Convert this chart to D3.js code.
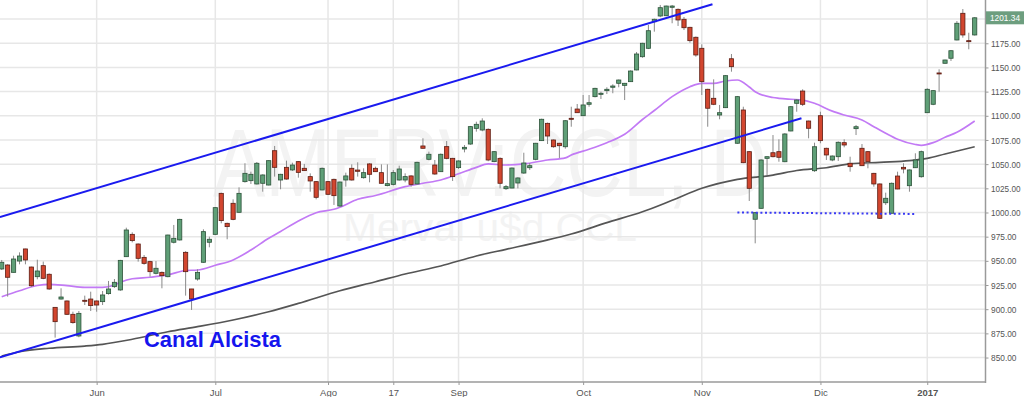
<!DOCTYPE html>
<html lang="es">
<head>
<meta charset="UTF-8">
<title>Merval u$d CCL - Canal Alcista</title>
<script src="https://d3js.org/d3.v7.min.js"></script>
<style>
    body { margin: 0; background: white; }
    svg { display: block; font-family: "Liberation Sans", Arial, sans-serif; }
</style>
</head>
<body>
<svg id="chart" width="1024" height="397"></svg>
<script>
    // daily candles (trading days, index 0 .. 164)
    const opens = [941.6,945.7,938.1,949.8,962.3,943.6,933.6,945.0,936.1,901.9,910.5,908.5,894.7,872.3,909.2,910.5,908.5,907.8,916.1,923.3,
        919.9,954.3,977.4,967.4,953.6,949.2,937.1,938.1,933.6,969.2,971.6,958.8,920.9,931.2,948.5,969.2,977.4,1019.8,988.8,1009.5,
        1000.2,1031.9,1032.9,1029.5,1030.2,1028.4,1063.9,1033.6,1046.7,1044.0,1052.6,1045.7,1037.1,1031.9,1023.3,1031.9,1034.3,1006.7,1033.6,1045.7,
        1043.9,1036.0,1050.2,1045.7,1041.2,1027.8,1029.1,1033.6,1033.6,1037.8,1029.5,1068.8,1055.0,1049.1,1042.2,1068.1,1056.0,1046.4,1065.7,1070.8,
        1087.0,1085.3,1086.0,1052.6,1056.0,1024.6,1025.3,1030.5,1040.8,1046.3,1055.0,1074.3,1092.2,1075.0,1071.6,1068.0,1097.4,1107.0,1100.1,1111.9,
        1119.8,1122.2,1126.0,1129.5,1133.6,1131.5,1135.3,1147.4,1161.1,1169.8,1197.3,1203.2,1203.5,1212.2,1210.1,1199.8,1191.5,1181.2,1169.8,1127.4,
        1118.1,1100.8,1108.4,1159.0,1071.6,1106.0,1062.9,993.0,1004.3,1056.0,1061.8,1062.9,1052.5,1084.3,1112.9,1125.6,1094.6,1043.2,1100.1,1066.4,
        1054.3,1057.7,1072.2,1050.9,1086.7,1066.4,1062.9,1040.5,1029.5,1010.1,999.2,1037.7,1046.7,1027.7,1046.3,1037.0,1103.2,1111.9,1144.3,1154.3,
        1159.5,1178.4,1206.0,1177.7,1183.6];
    const highs = [950.9,946.5,955.3,958.8,962.5,944.0,951.2,949.2,937.0,902.0,921.6,909.0,897.4,898.1,914.0,918.1,909.0,918.8,929.2,931.2,
        951.0,984.3,979.5,968.0,956.0,950.0,949.8,939.0,977.0,987.1,993.5,960.0,921.0,941.2,982.6,975.0,1005.5,1020.5,989.5,1013.6,
        1026.0,1050.9,1042.2,1052.2,1039.5,1054.0,1068.8,1040.0,1053.6,1051.5,1053.0,1050.2,1040.5,1032.5,1046.5,1032.5,1035.0,1032.0,1041.2,1049.8,
        1051.9,1045.7,1051.0,1047.4,1049.8,1049.8,1043.9,1048.4,1040.5,1038.5,1052.5,1076.7,1062.9,1054.3,1061.0,1073.9,1056.5,1054.0,1069.8,1089.5,
        1093.9,1097.4,1087.0,1063.5,1057.0,1028.4,1046.5,1036.5,1061.8,1051.2,1072.0,1097.0,1093.0,1075.5,1072.0,1095.5,1109.4,1112.2,1121.5,1121.5,
        1129.0,1124.9,1129.5,1132.6,1137.5,1134.0,1147.0,1166.0,1175.5,1193.9,1200.5,1214.6,1214.0,1214.6,1211.0,1202.2,1192.0,1182.0,1173.9,1128.0,
        1137.7,1111.2,1142.0,1163.9,1120.5,1109.4,1063.5,1000.5,1055.0,1058.0,1080.1,1075.7,1082.0,1110.0,1117.0,1127.4,1095.0,1072.2,1104.2,1067.0,
        1059.0,1073.5,1075.7,1057.7,1090.5,1070.8,1063.5,1041.0,1030.0,1020.5,1031.0,1042.2,1050.9,1044.5,1061.2,1064.0,1128.5,1126.5,1148.1,1158.0,
        1168.0,1198.0,1210.4,1185.9,1202.0];
    const lows = [940.5,913.0,938.0,946.4,946.4,923.0,930.9,931.0,920.0,870.6,910.0,894.0,885.0,871.0,904.3,898.1,897.4,904.3,915.0,922.0,
        919.0,954.0,969.1,949.2,946.0,933.6,936.0,921.6,933.0,968.0,971.0,914.0,899.2,929.5,948.0,964.0,977.0,988.8,972.3,992.0,
        999.5,1030.9,1029.5,1029.0,1021.5,1028.0,1037.1,1024.0,1034.0,1043.0,1036.0,1043.0,1021.5,1013.6,1023.0,1018.0,1007.8,1006.0,1026.7,1033.0,
        1037.1,1035.0,1031.2,1042.0,1030.0,1027.0,1028.0,1033.0,1031.2,1026.7,1029.0,1066.0,1054.0,1039.0,1042.0,1055.0,1032.6,1045.0,1062.2,1070.0,
        1083.6,1084.0,1053.0,1052.0,1025.0,1023.3,1025.0,1025.0,1040.0,1044.0,1054.0,1074.0,1070.8,1067.0,1056.4,1066.0,1088.7,1103.0,1100.0,1109.4,
        1119.0,1117.4,1122.5,1123.3,1129.5,1116.3,1135.0,1147.0,1160.0,1169.0,1187.0,1202.0,1203.0,1195.7,1192.9,1188.7,1175.6,1161.1,1121.5,1088.7,
        1111.0,1096.4,1108.0,1145.6,1071.0,1051.0,1011.9,968.1,1004.0,1038.8,1057.0,1052.5,1052.0,1084.0,1104.2,1110.1,1076.7,1042.0,1071.6,1054.3,
        1053.0,1053.3,1067.4,1042.2,1080.1,1048.0,1045.7,1026.7,993.3,1007.8,999.0,1024.0,1040.5,1021.5,1046.0,1036.0,1103.0,1111.0,1124.9,1154.0,
        1156.7,1178.0,1180.8,1168.8,1183.0];
    const closes = [948.5,933.0,951.9,955.0,950.9,924.3,939.5,931.9,920.9,887.1,912.6,894.7,886.1,895.7,908.5,903.7,904.3,914.7,920.9,927.8,
        950.5,981.9,970.9,952.6,947.4,938.8,942.3,934.7,976.7,973.3,992.9,938.8,910.6,938.1,980.2,972.3,1005.0,991.6,985.4,992.9,
        1019.8,1040.5,1039.5,1050.9,1038.8,1053.6,1046.7,1039.5,1034.6,1049.1,1041.5,1043.3,1032.6,1015.7,1045.7,1018.8,1017.4,1031.5,1037.8,1033.6,
        1042.6,1041.2,1039.5,1042.2,1030.2,1029.8,1041.2,1045.0,1037.1,1029.1,1051.9,1066.4,1060.2,1039.8,1060.2,1056.0,1037.1,1053.3,1067.4,1088.8,
        1091.2,1094.6,1054.3,1062.9,1030.2,1026.7,1046.0,1035.7,1051.2,1048.4,1071.6,1096.4,1079.1,1068.0,1069.1,1094.9,1096.4,1103.2,1111.2,1113.5,
        1128.4,1123.3,1127.4,1130.8,1137.0,1133.6,1146.3,1163.9,1175.0,1188.0,1199.8,1211.8,1213.5,1213.5,1199.1,1191.1,1177.7,1162.9,1135.3,1107.8,
        1111.9,1103.2,1141.5,1150.8,1119.8,1051.5,1025.0,999.8,1054.3,1057.7,1057.7,1057.1,1081.2,1109.4,1116.3,1111.9,1087.1,1068.0,1074.3,1059.5,
        1058.4,1072.6,1069.8,1047.4,1088.7,1048.4,1052.5,1029.5,994.0,1014.7,1030.2,1024.3,1045.0,1044.0,1054.3,1062.9,1127.4,1126.0,1143.6,1157.7,
        1167.3,1195.7,1183.6,1177.0,1201.34];

    // moving averages: [candle index, value]
    const maShort = [[0,912.9],[3,919.1],[6,924.5],[8,925.7],[11,924.3],[14,922.6],[17,922.6],[19,925.0],[20,927.8],[22,931.5],
        [25,933.0],[28,935.4],[31,940.0],[33,940.5],[36,945.4],[39,950.9],[42,961.2],[45,973.3],[47,980.4],[50,991.2],
        [53,999.8],[56,1003.3],[57,1005.4],[60,1013.7],[63,1017.6],[68,1026.7],[71,1030.2],[74,1033.6],[77,1040.0],[80,1046.7],
        [82,1050.2],[85,1049.1],[88,1050.2],[92,1054.3],[95,1056.5],[96,1059.5],[99,1065.4],[102,1072.2],[105,1080.9],[108,1096.2],
        [110,1105.5],[113,1119.8],[116,1130.1],[118,1133.6],[120,1133.6],[122,1136.0],[124,1137.0],[126,1129.8],[127,1124.9],[130,1118.9],
        [131,1118.1],[133,1117.1],[135,1116.3],[137,1112.9],[140,1104.8],[142,1100.8],[145,1095.7],[147,1088.7],[149,1081.9],[151,1075.7],
        [154,1070.3],[155,1069.5],[157,1072.2],[159,1077.8],[161,1082.9],[164,1094.6]];
    const maLong = [[0,851.6],[3,856.0],[8,859.6],[14,861.9],[17,863.7],[22,868.9],[28,876.7],[33,881.9],[39,888.8],[45,897.4],
        [50,906.0],[57,919.1],[63,928.4],[68,936.4],[74,944.7],[80,955.0],[85,961.9],[91,970.2],[96,977.8],[102,989.5],
        [108,1000.7],[113,1012.6],[118,1025.0],[124,1034.3],[130,1038.6],[134,1043.4],[139,1046.3],[143,1050.2],[148,1051.9],[153,1053.6],
        [156,1056.0],[159,1060.5],[164,1068.0]];

    // hand drawn lines: [candle index, value]
    const channelTop = [[-0.3, 995.4], [119.8, 1215.3]];
    const channelBottom = [[-0.3, 850.3], [134.8, 1097.4]];
    const supportLine = [[124, 1000.0], [154, 998.5]];

    const monthIdx = [16, 36, 55, 66, 77, 98, 118, 138, 156];
    const monthLabels = ["Jun", "Jul", "Ago", "17", "Sep", "Oct", "Nov", "Dic", "2017"];
    const priceTicks = [850, 875, 900, 925, 950, 975, 1000, 1025, 1050, 1075, 1100, 1125, 1150, 1175, 1200];
    const lastPrice = 1201.34;

    const svg = d3.select("#chart");
    const plotW = 985.5, plotH = 382;

    const x = d3.scaleLinear().domain([-0.29, 165.82]).range([0, plotW]);
    const y = d3.scaleLinear().domain([824.7, 1219.75]).range([plotH, 0]);

    svg.append("defs").append("clipPath").attr("id", "plot")
        .append("rect").attr("width", plotW).attr("height", plotH);

    // watermark
    const wm = svg.append("g").attr("fill", "#f3f3f3");
    wm.append("text").attr("x", 213).attr("y", 196)
        .attr("font-size", 96).attr("textLength", 554).attr("lengthAdjust", "spacingAndGlyphs")
        .text("AMERV:CCL, D");
    wm.append("text").attr("x", 343).attr("y", 241)
        .attr("font-size", 38).attr("textLength", 294).attr("lengthAdjust", "spacingAndGlyphs")
        .text("Merval u$d CCL");

    // grid
    const grid = svg.append("g").attr("stroke", "#e7e7e7").attr("stroke-width", 1.5);
    grid.selectAll(".h").data(priceTicks).join("line")
        .attr("x1", 0).attr("x2", plotW)
        .attr("y1", d => y(d)).attr("y2", d => y(d));
    grid.selectAll(".v").data(monthIdx).join("line")
        .attr("x1", d => x(d)).attr("x2", d => x(d))
        .attr("y1", 0).attr("y2", plotH);

    const plot = svg.append("g").attr("clip-path", "url(#plot)");
    const line = d3.line().x(d => x(d[0])).y(d => y(d[1])).curve(d3.curveMonotoneX);

    plot.append("path").attr("d", line(maLong))
        .attr("fill", "none").attr("stroke", "#555").attr("stroke-width", 1.7);
    plot.append("path").attr("d", line(maShort))
        .attr("fill", "none").attr("stroke", "#c27af5").attr("stroke-width", 1.7);

    // candles
    const idx = d3.range(opens.length);
    const bw = 4.2;
    const candle = plot.append("g").selectAll("g").data(idx).join("g");
    candle.append("line")
        .attr("x1", i => x(i)).attr("x2", i => x(i))
        .attr("y1", i => y(highs[i])).attr("y2", i => y(lows[i]))
        .attr("stroke", "#8a8a8a").attr("stroke-width", 1);
    candle.append("rect")
        .attr("x", i => x(i) - bw / 2)
        .attr("width", bw)
        .attr("y", i => y(Math.max(opens[i], closes[i])))
        .attr("height", i => Math.max(1, Math.abs(y(opens[i]) - y(closes[i]))))
        .attr("fill", i => closes[i] >= opens[i] ? "#5f9f77" : "#d2462f")
        .attr("stroke", i => closes[i] >= opens[i] ? "#2c5239" : "#5c1c12")
        .attr("stroke-width", 0.8);

    // trend channel
    const straight = d3.line().x(d => x(d[0])).y(d => y(d[1]));
    [channelTop, channelBottom].forEach(c => {
        plot.append("path").attr("d", straight(c))
            .attr("fill", "none").attr("stroke", "#1a1aef").attr("stroke-width", 2);
    });
    plot.append("path").attr("d", straight(supportLine))
        .attr("fill", "none").attr("stroke", "#3a3af5").attr("stroke-width", 2)
        .attr("stroke-dasharray", "2,2.6");

    svg.append("text").attr("x", 144).attr("y", 346.5)
        .attr("font-size", 22).attr("font-weight", "bold").attr("fill", "#1515ee")
        .attr("textLength", 137).attr("lengthAdjust", "spacingAndGlyphs")
        .text("Canal Alcista");

    // axes (the 1200 level is covered by the last price tag)
    const yAxis = svg.append("g").attr("transform", `translate(${plotW},0)`)
        .call(d3.axisRight(y).tickValues(priceTicks.filter(v => v < 1200))
            .tickFormat(d3.format(".2f")).tickSize(3).tickPadding(2.5));
    const xAxis = svg.append("g").attr("transform", `translate(0,${plotH})`)
        .call(d3.axisBottom(x).tickValues(monthIdx).tickFormat((d, i) => monthLabels[i]).tickSize(3).tickPadding(4));
    [yAxis, xAxis].forEach(a => {
        a.select(".domain").remove();
        a.selectAll("line").attr("stroke", "#999");
        a.selectAll("text").attr("fill", "#555").attr("font-size", 9.5)
            .attr("font-family", "Liberation Sans, Arial, sans-serif");
    });
    yAxis.selectAll("text").attr("textLength", d => d >= 1000 ? 29.5 : 25.5).attr("lengthAdjust", "spacingAndGlyphs");
    xAxis.selectAll("text").filter((d, i) => monthLabels[i] === "2017").attr("font-weight", "bold");

    svg.append("line").attr("x1", plotW).attr("x2", plotW).attr("y1", 0).attr("y2", plotH + 1)
        .attr("stroke", "#9a9a9a").attr("stroke-width", 1.5);
    svg.append("line").attr("x1", 0).attr("x2", plotW).attr("y1", plotH).attr("y2", plotH)
        .attr("stroke", "#9a9a9a").attr("stroke-width", 1.5);

    // last price tag
    const tag = svg.append("g").attr("transform", `translate(${plotW + 0.5},${y(lastPrice)})`);
    tag.append("rect").attr("x", 0).attr("y", -6.5).attr("width", 38.5).attr("height", 13).attr("fill", "#6d9e7f");
    tag.append("text").attr("x", 4).attr("y", 3.5).attr("font-size", 9.5).attr("fill", "white")
        .attr("textLength", 30).attr("lengthAdjust", "spacingAndGlyphs")
        .text(d3.format(".2f")(lastPrice));
</script>
</body>
</html>
